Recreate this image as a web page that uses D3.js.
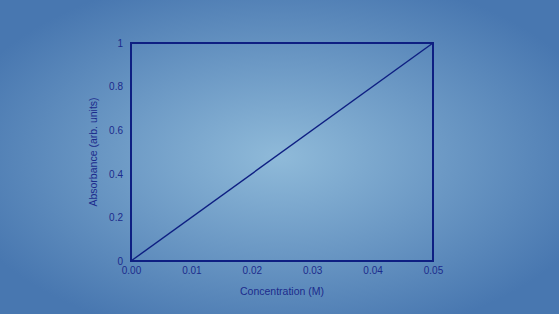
<!DOCTYPE html>
<meta charset="utf-8">
<style>
  body { margin: 0; }
  text { font-family: "Liberation Sans", Arial, sans-serif; fill: #1c2b8c; }
</style>
<body>
<div id="chart"></div>
<script src="https://d3js.org/d3.v7.min.js"></script>
<script>
// chart data
var concentration = [0, 0.05];
var absorbance = [0, 1];
var xTicks = [0, 0.01, 0.02, 0.03, 0.04, 0.05];
var yTicks = [0, 0.2, 0.4, 0.6, 0.8, 1];

var width = 559,
    height = 314;
var margin = {top: 43, right: 126, bottom: 53, left: 131};

var svg = d3.select("#chart").append("svg")
    .attr("width", width)
    .attr("height", height);

// radial background
var grad = svg.append("defs").append("radialGradient")
    .attr("id", "bg")
    .attr("cx", "50%").attr("cy", "50%").attr("r", "60%");
grad.append("stop").attr("offset", "0%").attr("stop-color", "#8fbad9");
grad.append("stop").attr("offset", "100%").attr("stop-color", "#4877b0");
svg.append("rect")
    .attr("width", width)
    .attr("height", height)
    .attr("fill", "url(#bg)");

var x = d3.scaleLinear()
    .domain([0, 0.05])
    .range([margin.left, width - margin.right]);
var y = d3.scaleLinear()
    .domain([0, 1])
    .range([height - margin.bottom, margin.top]);

var ink = "#0e1f82";

// frame
svg.append("rect")
    .attr("x", x(0))
    .attr("y", y(1))
    .attr("width", x(0.05) - x(0))
    .attr("height", y(0) - y(1))
    .attr("fill", "none")
    .attr("stroke", ink)
    .attr("stroke-width", 2);

// data line
var line = d3.line()
    .x(function(d, i) { return x(concentration[i]); })
    .y(function(d) { return y(d); });
svg.append("path")
    .datum(absorbance)
    .attr("d", line)
    .attr("fill", "none")
    .attr("stroke", ink)
    .attr("stroke-width", 1.4);

// axes (labels only)
var xAxis = svg.append("g")
    .attr("transform", "translate(0," + y(0) + ")")
    .call(d3.axisBottom(x).tickValues(xTicks).tickFormat(d3.format(".2f")).tickSize(0).tickPadding(6));
var yAxis = svg.append("g")
    .attr("transform", "translate(" + x(0) + ",0)")
    .call(d3.axisLeft(y).tickValues(yTicks).tickFormat(function(d) { return d3.format("")(+d.toFixed(1)); }).tickSize(0).tickPadding(8));
[xAxis, yAxis].forEach(function(g) {
  g.select(".domain").remove();
  g.selectAll("text").style("font-size", "10px").attr("fill", "#1c2b8c")
      .style("font-family", "'Liberation Sans', Arial, sans-serif");
});

svg.append("text")
    .attr("x", (x(0) + x(0.05)) / 2)
    .attr("y", 295)
    .attr("text-anchor", "middle")
    .style("font-size", "10.5px")
    .text("Concentration (M)");

svg.append("text")
    .attr("transform", "translate(97," + (y(0) + y(1)) / 2 + ") rotate(-90)")
    .attr("text-anchor", "middle")
    .style("font-size", "10.5px")
    .text("Absorbance (arb. units)");
</script>
</body>
